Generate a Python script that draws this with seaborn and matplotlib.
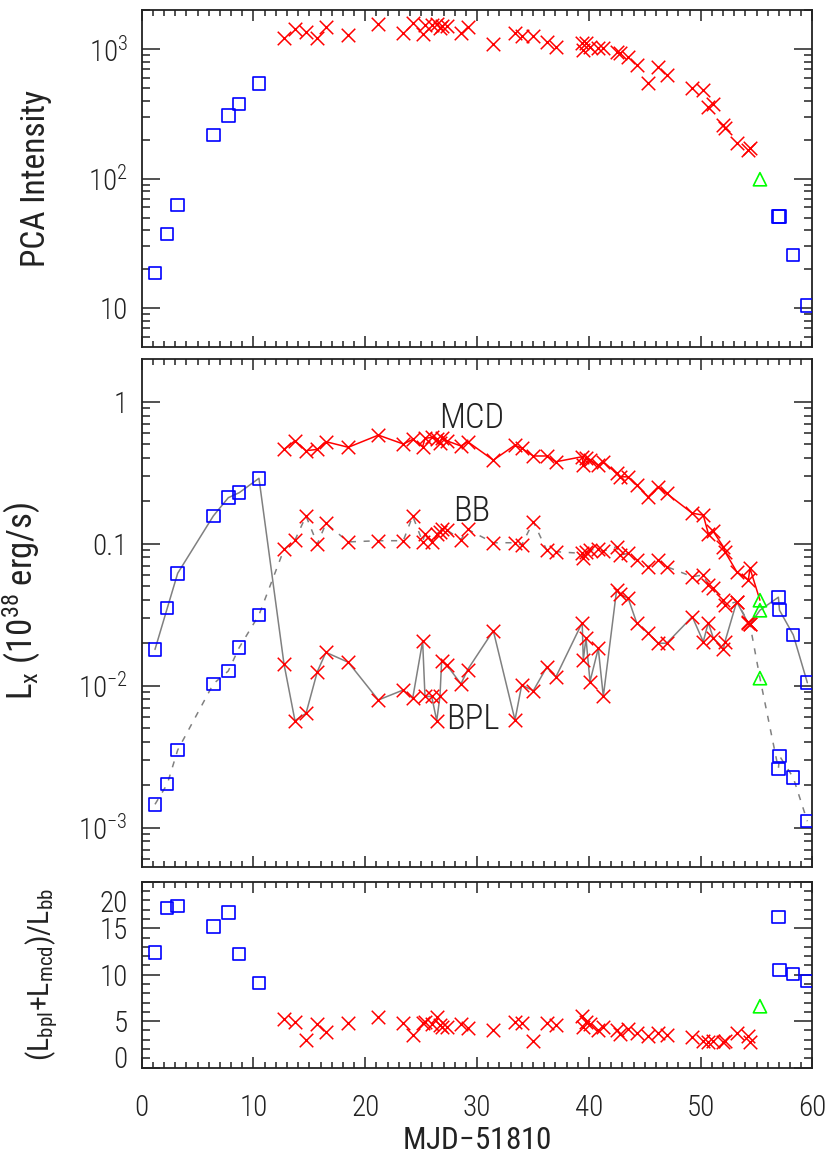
import matplotlib
matplotlib.use('Agg')
import matplotlib.pyplot as plt
import seaborn as sns
import pandas as pd
from matplotlib.ticker import MultipleLocator, LogLocator, NullFormatter
from matplotlib.transforms import ScaledTranslation

# hard state, rise (blue squares)
t_hard1 = [1.19, 2.29, 3.22, 6.41, 7.75, 8.73, 10.49]
pca_hard1 = [18.8, 37.5, 62.7, 217, 306, 375, 544]
bpl_hard1 = [0.0180, 0.0352, 0.0619, 0.157, 0.211, 0.229, 0.289]
bb_hard1 = [0.00146, 0.00203, 0.00352, 0.0103, 0.0127, 0.0186, 0.0315]
ratio_hard1 = [12.4, 17.2, 17.4, 15.2, 16.7, 12.2, 9.1]

# soft state (red crosses)
t_soft = [12.73, 13.71, 14.70, 15.71, 16.48, 18.48, 21.17, 23.40, 24.24, 25.13,
          25.34, 25.94, 26.39, 26.68, 26.83, 27.28, 28.56, 29.16, 31.45, 33.39,
          33.99, 35.03, 36.22, 37.06, 39.40, 39.50, 39.74, 40.10, 40.84, 41.29,
          42.48, 42.78, 43.52, 44.27, 45.31, 46.20, 46.96, 49.25, 50.23, 50.68,
          51.13, 52.02, 52.17, 53.22, 54.26, 54.41]
pca_soft = [1222, 1426, 1345, 1222, 1486, 1282, 1550, 1321, 1578, 1297,
            1531, 1531, 1560, 1445, 1500, 1500, 1321, 1470, 1087, 1336,
            1259, 1259, 1138, 1030, 1118, 983, 1106, 1041, 1012, 1023,
            953, 927, 873, 754, 550, 731, 630, 498, 483, 359,
            377, 259, 245, 190, 166, 172]
mcd_soft = [0.462, 0.531, 0.452, 0.462, 0.523, 0.478, 0.582, 0.504, 0.543, 0.482,
            0.552, 0.561, 0.543, 0.509, 0.552, 0.531, 0.488, 0.523, 0.388, 0.495,
            0.470, 0.415, 0.415, 0.378, 0.410, 0.358, 0.399, 0.388, 0.358, 0.378,
            0.313, 0.296, 0.296, 0.259, 0.214, 0.252, 0.226, 0.164, 0.159, 0.118,
            0.122, 0.0953, 0.0879, 0.0635, 0.0555, 0.0671]
bb_soft = [0.0912, 0.106, 0.157, 0.0995, 0.139, 0.103, 0.105, 0.105, 0.157, 0.103,
           0.118, 0.103, 0.118, 0.121, 0.128, 0.125, 0.107, 0.126, 0.1016, 0.1016,
           0.098, 0.143, 0.0903, 0.0879, 0.0855, 0.0789, 0.0879, 0.0903, 0.0912, 0.0888,
           0.0953, 0.0832, 0.0855, 0.0768, 0.0689, 0.0768, 0.0689, 0.0586, 0.0602, 0.0512,
           0.0485, 0.0402, 0.0370, 0.0390, 0.0280, 0.0270]
bpl_soft = [0.0142, 0.00567, 0.00639, 0.01256, 0.01717, 0.01462, 0.00793, 0.00933, 0.00815, 0.0206,
            0.0084, 0.0084, 0.00567, 0.0084, 0.0150, 0.0140, 0.0103, 0.0130, 0.0244, 0.00573,
            0.0101, 0.00922, 0.01347, 0.01157, 0.0278, 0.0152, 0.0216, 0.0107, 0.0183, 0.0084,
            0.0472, 0.0440, 0.0412, 0.0278, 0.0234, 0.0199, 0.0199, 0.0306, 0.0204, 0.0278,
            0.0216, 0.0180, 0.0204, 0.0390, 0.0275, 0.0270]
ratio_soft = [5.23, 4.94, 2.97, 4.69, 3.86, 4.76, 5.48, 4.84, 3.51, 4.76,
              4.94, 4.69, 5.48, 4.6, 4.4, 4.4, 4.69, 4.22, 4.05, 4.94,
              4.76, 2.9, 4.84, 4.6, 5.56, 4.4, 4.94, 4.69, 4.05, 4.4,
              4.05, 3.6, 4.1, 3.7, 3.4, 3.7, 3.5, 3.3, 2.9, 2.8,
              2.9, 2.8, 2.9, 3.7, 3.4, 2.8]

# intermediate (green triangle)
t_mid = [55.30]
pca_mid = [99]
mcd_mid = [0.040]
bb_mid = [0.0113]
bpl_mid = [0.034]
ratio_mid = [6.6]

# hard state, decay (blue squares)
t_hard2 = [56.95, 57.05, 58.28, 59.54]
pca_hard2 = [51, 51, 25.8, 10.5]
bpl_hard2 = [0.042, 0.034, 0.0228, 0.0105]
bb_hard2 = [0.0026, 0.0032, 0.00225, 0.00111]
ratio_hard2 = [16.2, 10.5, 10.1, 9.3]

sns.set_style('ticks')
plt.rcParams['font.family'] = ['Roboto Condensed', 'DejaVu Sans']
plt.rcParams['font.weight'] = 'light'
plt.rcParams['mathtext.default'] = 'regular'
plt.rcParams['font.size'] = 21
plt.rcParams['axes.linewidth'] = 1.3
plt.rcParams['axes.edgecolor'] = '#222222'
for k in ('text.color', 'axes.labelcolor', 'xtick.color', 'ytick.color'):
    plt.rcParams[k] = '#222222'

fig = plt.figure(figsize=(8.3, 11.61), dpi=100)
ax1 = fig.add_axes([0.1707, 0.7014, 0.8082, 0.2900])
ax2 = fig.add_axes([0.1707, 0.2532, 0.8082, 0.4373])
ax3 = fig.add_axes([0.1707, 0.0805, 0.8082, 0.1600])

BLUE, RED, GREEN, GRAY = '#0000ff', '#ff0000', '#00ff00', '#808080'


def marks(ax, t, y, kind):
    if kind == 'hard':
        sns.scatterplot(x=t, y=y, ax=ax, marker='s', s=80, facecolor='none',
                        edgecolor=BLUE, linewidth=1.2, zorder=4)
    elif kind == 'soft':
        sns.scatterplot(x=t, y=y, ax=ax, marker='x', s=95, color=RED,
                        linewidth=1.1, zorder=4)
    else:
        sns.scatterplot(x=t, y=y, ax=ax, marker='^', s=90, facecolor='none',
                        edgecolor=GREEN, linewidth=1.2, zorder=4)


def line(ax, t, y, **kw):
    sns.lineplot(x=t, y=y, ax=ax, estimator=None, sort=False, **kw)


# top panel: PCA intensity
ax1.set_yscale('log')
marks(ax1, t_hard1, pca_hard1, 'hard')
marks(ax1, t_soft, pca_soft, 'soft')
marks(ax1, t_mid, pca_mid, 'mid')
marks(ax1, t_hard2, pca_hard2, 'hard')
ax1.set_ylim(5.06, 2000)
ax1.set_yticks([10, 100, 1000], ['10', '10$^{2}$', '10$^{3}$'])
ax1.set_ylabel('PCA Intensity', fontsize=24)

# middle panel: luminosities
ax2.set_yscale('log')
t_all = t_hard1 + t_soft + t_mid + t_hard2
line(ax2, t_all, bpl_hard1 + bpl_soft + bpl_mid + bpl_hard2, color=GRAY, lw=1.1)
line(ax2, t_all, bb_hard1 + bb_soft + bb_mid + bb_hard2, color=GRAY, lw=1.1,
     linestyle=(0, (4, 5)))
line(ax2, t_soft + t_mid, mcd_soft + mcd_mid, color=RED, lw=1.1)
for tt, vals, kind in [(t_hard1, bpl_hard1, 'hard'), (t_hard1, bb_hard1, 'hard'),
                       (t_soft, mcd_soft, 'soft'), (t_soft, bb_soft, 'soft'),
                       (t_soft, bpl_soft, 'soft'), (t_mid, mcd_mid, 'mid'),
                       (t_mid, bb_mid, 'mid'), (t_mid, bpl_mid, 'mid'),
                       (t_hard2, bpl_hard2, 'hard'), (t_hard2, bb_hard2, 'hard')]:
    marks(ax2, tt, vals, kind)
ax2.set_ylim(5.28e-4, 1.99)
ax2.set_yticks([1e-3, 1e-2, 0.1, 1], ['10$^{-3}$', '10$^{-2}$', '0.1', '1'])
ax2.set_ylabel('L$_{x}$ (10$^{38}$ erg/s)', fontsize=25)
ax2.text(29.5, 0.77, 'MCD', ha='center', va='center', fontsize=25)
ax2.text(29.55, 0.168, 'BB', ha='center', va='center', fontsize=25)
ax2.text(29.6, 0.0058, 'BPL', ha='center', va='center', fontsize=25)

# bottom panel: flux ratio
marks(ax3, t_hard1, ratio_hard1, 'hard')
marks(ax3, t_soft, ratio_soft, 'soft')
marks(ax3, t_mid, ratio_mid, 'mid')
marks(ax3, t_hard2, ratio_hard2, 'hard')
ax3.set_ylim(0, 20)
ax3.set_yticks([0, 5, 10, 15, 20], ['0', '5', '10', '15', '20'])
ax3.yaxis.set_minor_locator(MultipleLocator(1))
ax3.set_ylabel('(L$_{bpl}$+L$_{mcd}$)/L$_{bb}$', fontsize=21.5)
ax3.set_xlabel('MJD$-$51810', fontsize=22.5)

for ax in (ax1, ax2, ax3):
    ax.set_xlim(0, 60)
    ax.xaxis.set_major_locator(MultipleLocator(10))
    ax.xaxis.set_minor_locator(MultipleLocator(1))
    ax.tick_params(which='both', direction='in', top=True, right=True,
                   color='#222222', width=1.1)
    ax.tick_params(axis='x', which='major', length=8, pad=19)
    ax.tick_params(axis='x', which='minor', length=4)
    ax.tick_params(axis='y', which='major', length=13, pad=10)
    ax.tick_params(axis='y', which='minor', length=6)
    if ax is not ax3:
        ax.tick_params(axis='x', labelbottom=False)
        ax.set_xlabel('')
for ax in (ax1, ax2):
    ax.yaxis.set_minor_locator(LogLocator(base=10, subs=range(2, 10)))
    ax.yaxis.set_minor_formatter(NullFormatter())

# end labels of the ratio axis sit inside the frame
for lab in ax3.get_yticklabels():
    if lab.get_text() == '20':
        lab.set_transform(lab.get_transform() + ScaledTranslation(0, -13.5 / 72, fig.dpi_scale_trans))
    elif lab.get_text() == '0':
        lab.set_transform(lab.get_transform() + ScaledTranslation(0, 7.8 / 72, fig.dpi_scale_trans))

ax1.yaxis.set_label_coords(-0.134, 0.5)
ax2.yaxis.set_label_coords(-0.147, 0.524)
ax3.yaxis.set_label_coords(-0.122, 0.5)
ax3.xaxis.set_label_coords(0.5, -0.315)

fig.savefig('out.png', dpi=100)
